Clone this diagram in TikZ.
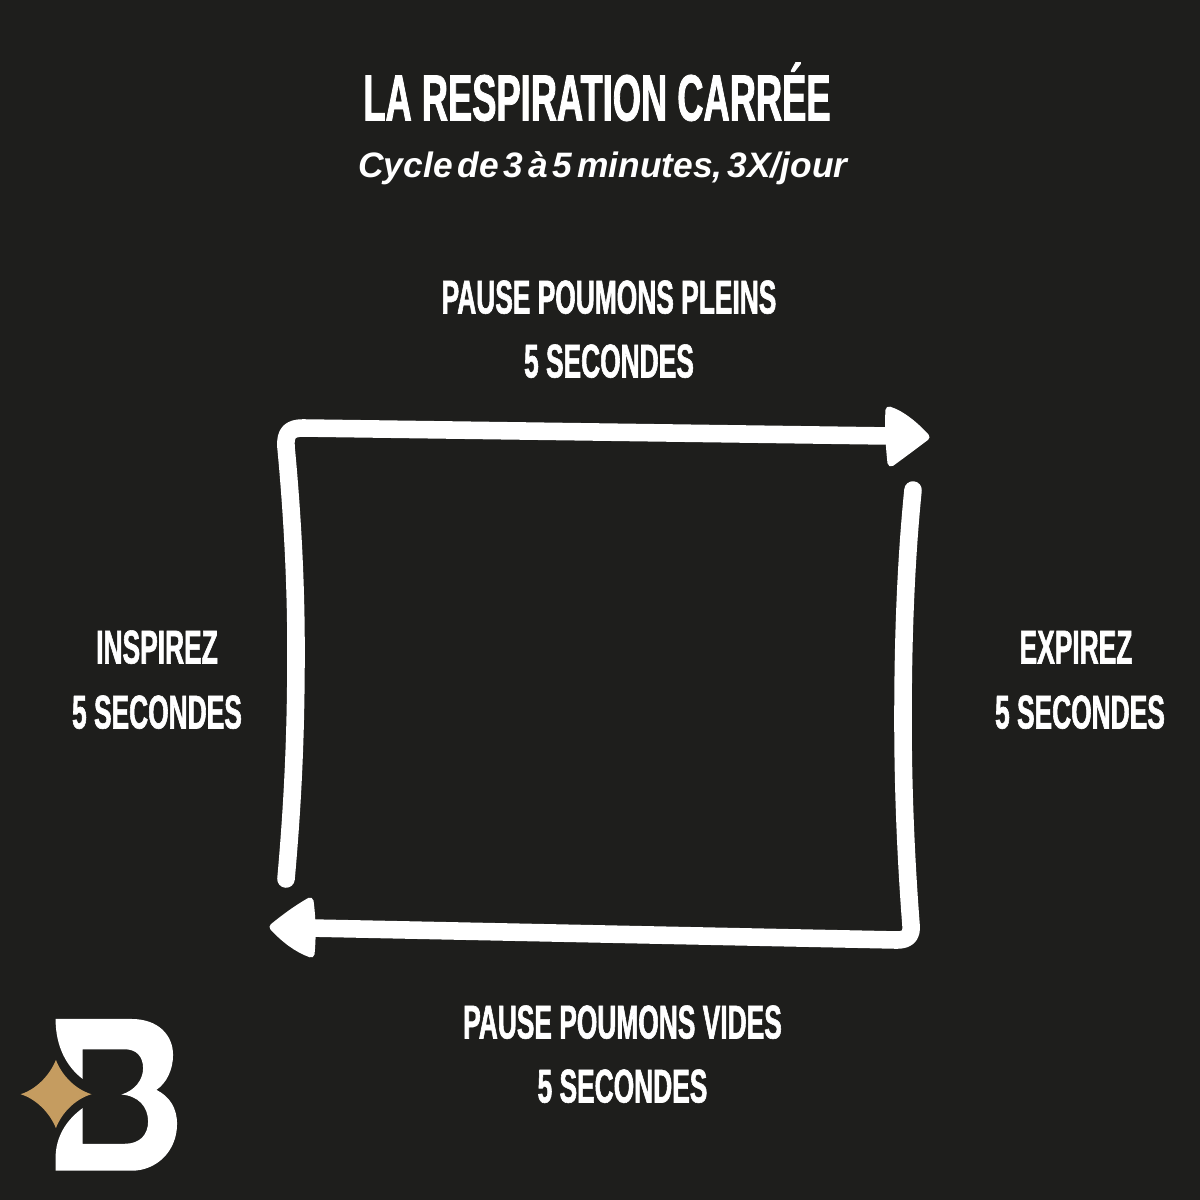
\documentclass[tikz,border=0pt]{standalone}
\usepackage{fontspec}
\newfontfamily\capsfont[FakeStretch=0.555,FakeBold=1.2]{Liberation Sans Bold}
\newfontfamily\subfont[WordSpace=0.5]{Liberation Sans Bold Italic}
\definecolor{bg}{HTML}{1E1E1C}
\definecolor{gold}{HTML}{C59C60}
\tikzset{
 titletext/.style={text=white,inner sep=0,anchor=base,font=\capsfont\fontsize{18.6}{18.6}\selectfont},
 labeltext/.style={text=white,inner sep=0,anchor=base,font=\capsfont\fontsize{13.5}{13.5}\selectfont},
 subtext/.style={text=white,inner sep=0,anchor=base,font=\subfont\fontsize{10.05}{10.05}\selectfont},
 stroke/.style={draw=white,line width=5pt,line cap=round,line join=round},
 head/.style={fill=white,draw=white,line width=2pt,line join=round},
}
\begin{document}
\begin{tikzpicture}[x=0.01cm,y=-0.01cm]
\useasboundingbox (0,0) rectangle (1200,1200);
\fill[bg] (0,0) rectangle (1200,1200);
\node[titletext] (title) at (597,120.5) {LA RESPIRATION CARRÉE};
\node[subtext] (sub) at (603,177) {Cycle de 3 à 5 minutes, 3X/jour};
\node[labeltext] (t1) at (609,313.5) {PAUSE POUMONS PLEINS};
\node[labeltext] (t2) at (609,377.5) {5 SECONDES};
\node[labeltext] (l1) at (157,663.5) {INSPIREZ};
\node[labeltext] (l2) at (157,728.5) {5 SECONDES};
\node[labeltext] (r1) at (1076,663.5) {EXPIREZ};
\node[labeltext] (r2) at (1080,728.5) {5 SECONDES};
\node[labeltext] (b1) at (622.5,1038.5) {PAUSE POUMONS VIDES};
\node[labeltext] (b2) at (622.5,1102.5) {5 SECONDES};
% top-left stroke
\draw[stroke] (286,879) .. controls (294,790) and (296,720) .. (296,650)
  .. controls (296,580) and (292,510) .. (286,447)
  .. controls (285,433) and (290,428) .. (303,428) -- (890,436);
\fill[head] (889,410) .. controls (902,414) and (916,426) .. (926,437)
  .. controls (914,446) and (902,455) .. (891,463)
  .. controls (889,445) and (888,425) .. (889,410) -- cycle;
% bottom-right stroke
\draw[stroke] (913,490) .. controls (905,570) and (903,650) .. (903,720)
  .. controls (903,790) and (906,860) .. (911,925)
  .. controls (912,935) and (908,940) .. (897,940) -- (310,928);
\fill[head] (310,901) .. controls (296,909) and (284,918) .. (273,927)
  .. controls (284,939) and (297,949) .. (311,954)
  .. controls (313,935) and (312,915) .. (310,901) -- cycle;
% logo
\begin{scope}[shift={(0,1000)},x=0.003333cm,y=-0.003333cm]
\fill[white] (167,57) -- (395,57) .. controls (475,57) and (520,105) .. (520,165)
  .. controls (520,210) and (500,250) .. (470,270)
  .. controls (510,290) and (532,325) .. (532,372)
  .. controls (532,455) and (470,513) .. (395,513) -- (167,513) -- (167,475)
  .. controls (167,410) and (200,360) .. (248,325) -- (248,432) -- (375,432)
  .. controls (420,432) and (445,405) .. (445,365)
  .. controls (445,320) and (415,288) .. (365,284)
  .. controls (405,272) and (430,240) .. (430,205)
  .. controls (430,170) and (410,148) .. (375,148) -- (248,148) -- (248,237)
  .. controls (200,200) and (167,140) .. (167,57) -- cycle;
\fill[gold] (168,180) .. controls (185,225) and (225,268) .. (275,283)
  .. controls (225,298) and (185,340) .. (168,385)
  .. controls (150,340) and (110,298) .. (62,283)
  .. controls (110,268) and (150,225) .. (168,180) -- cycle;
\end{scope}
\end{tikzpicture}
\end{document}
